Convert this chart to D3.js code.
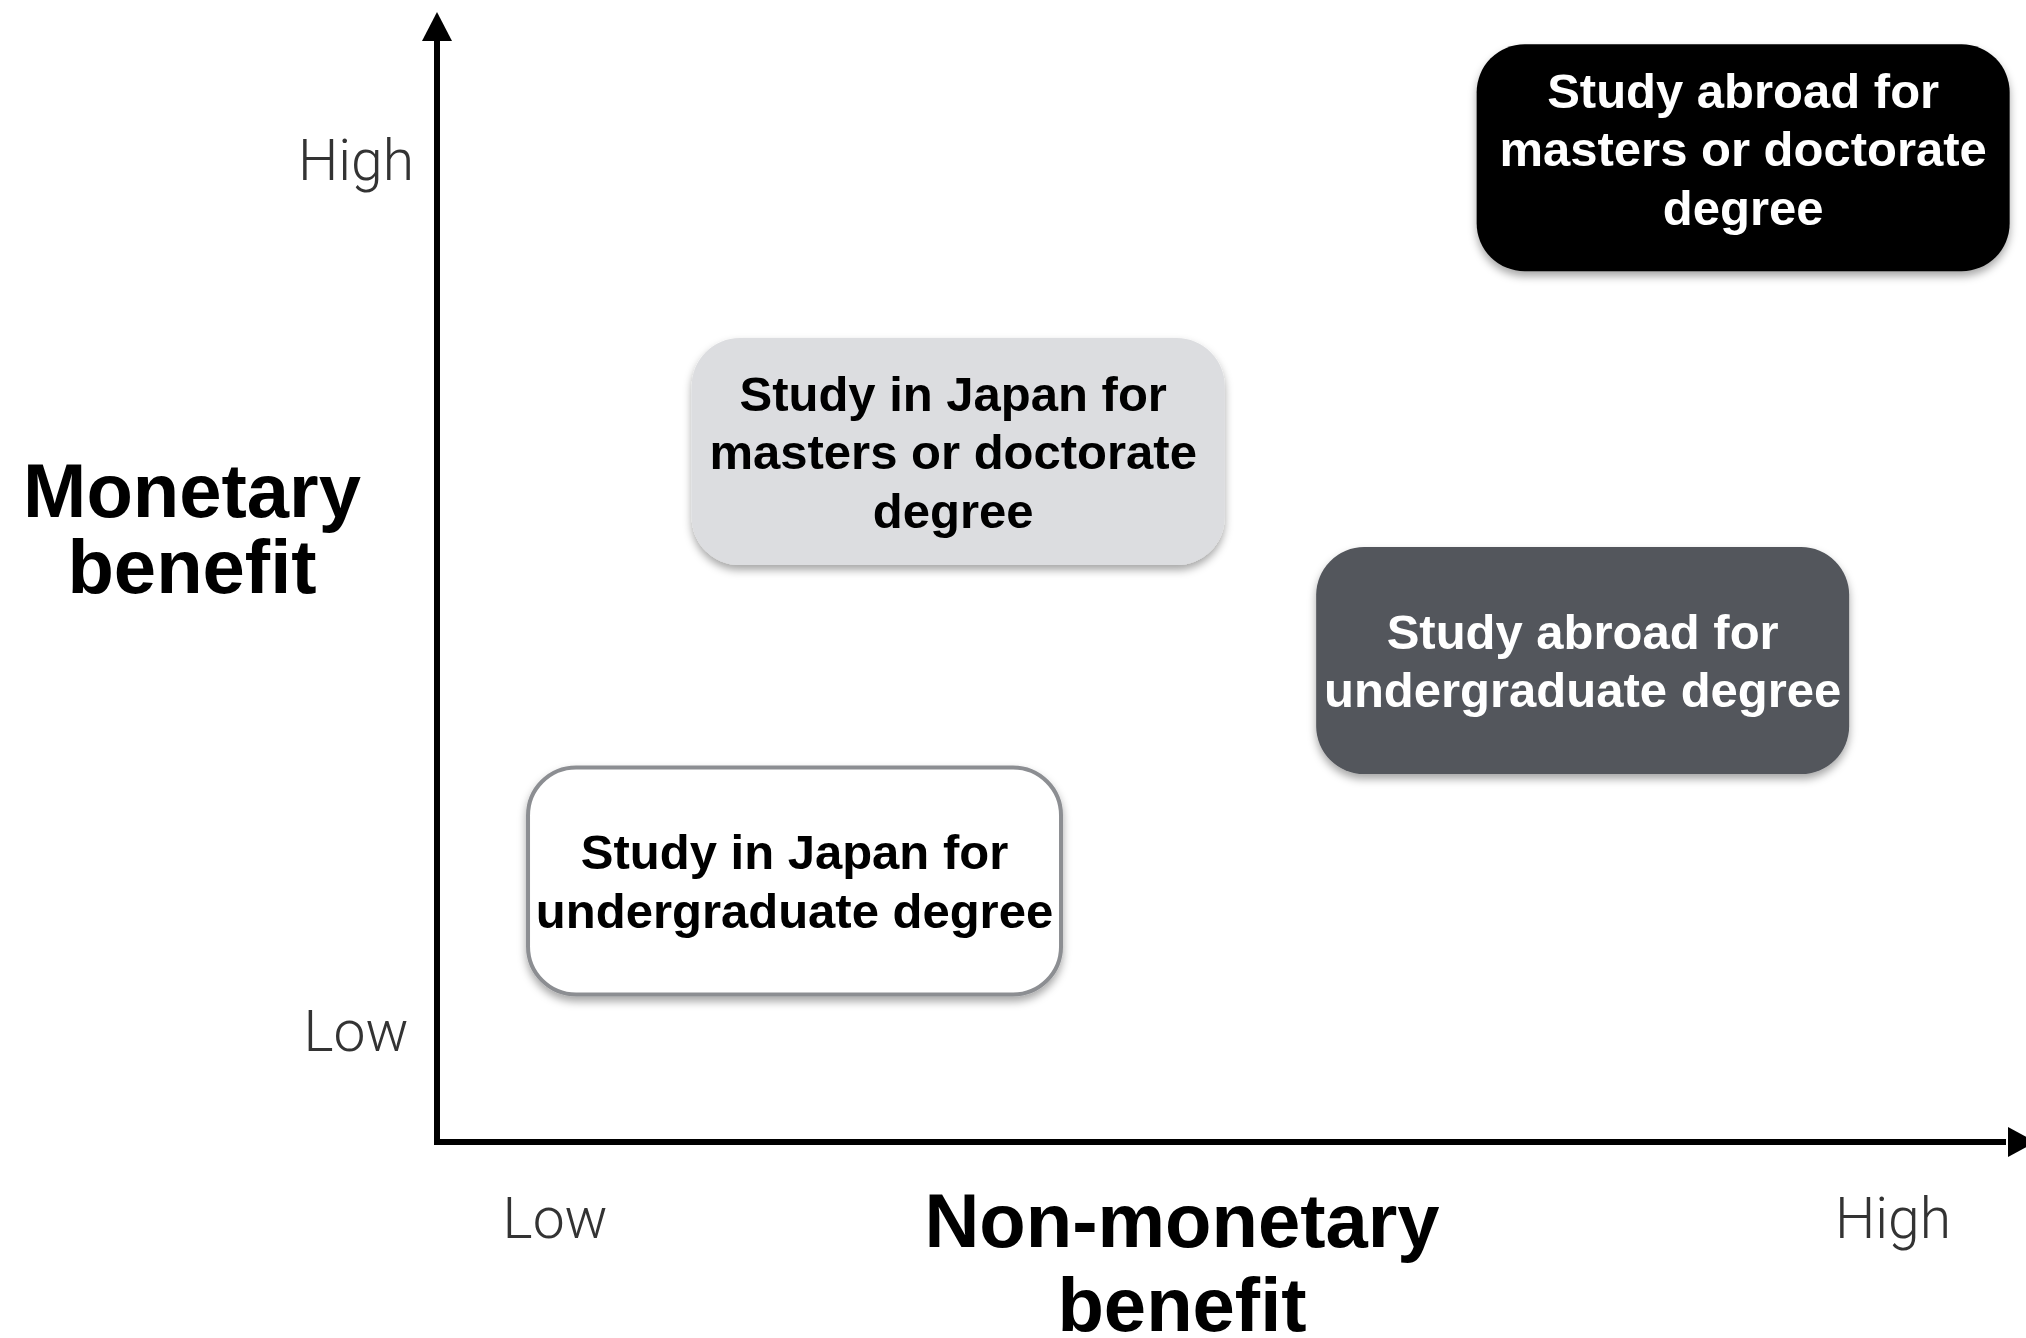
<!DOCTYPE html>
<html>
<head>
<meta charset="utf-8">
<script src="https://cdn.jsdelivr.net/npm/d3@7"></script>
<style>
  html, body { margin: 0; padding: 0; background: #ffffff; }
  svg { display: block; }
</style>
</head>
<body>
<svg id="chart" width="2026" height="1338"></svg>
<script>
// ---- data ----
const categories = [
  "Study abroad for\nmasters or doctorate\ndegree",
  "Study in Japan for\nmasters or doctorate\ndegree",
  "Study abroad for\nundergraduate degree",
  "Study in Japan for\nundergraduate degree"
];
const nonMonetary = [82.2, 32.8, 72.1, 22.5];   // x position (0-100)
const monetary    = [87.1, 61.1, 42.6, 23.1];   // y position (0-100)
const boxFills    = ["#000000", "#dcdde0", "#53565c", "#ffffff"];
const textFills   = ["#ffffff", "#000000", "#ffffff", "#000000"];
const xTickLabels = ["Low", "High"];
const xTickValues = [7.4, 91.6];
const yTickLabels = ["Low", "High"];
const yTickValues = [9.7, 86.8];
const xTitle = ["Non-monetary", "benefit"];
const yTitle = ["Monetary", "benefit"];

// ---- layout ----
const W = 2026, H = 1338;
const x0 = 437, yBase = 1142;
const x = d3.scaleLinear().domain([0, 100]).range([x0, 2026]);
const y = d3.scaleLinear().domain([0, 100]).range([yBase, 12]);
const textShift = [-9, 0, 0, 0];
const textShiftX = [0, -5, 0, 0];

const svg = d3.select("#chart");
svg.append("rect").attr("width", W).attr("height", H).attr("fill", "#fff");

const defs = svg.append("defs");
const f = defs.append("filter").attr("id", "shadow")
  .attr("x", "-10%").attr("y", "-10%").attr("width", "120%").attr("height", "130%");
f.append("feDropShadow").attr("dx", 0).attr("dy", 5).attr("stdDeviation", 4)
  .attr("flood-color", "#000").attr("flood-opacity", 0.35);

// axes lines with arrows
const axisG = svg.append("g");
axisG.append("line")
  .attr("x1", x(0)).attr("y1", y(0) + 3)
  .attr("x2", x(0)).attr("y2", y(100) + 26)
  .attr("stroke", "#000").attr("stroke-width", 6);
axisG.append("path")
  .attr("d", `M${x(0)},${y(100)} L${x(0) - 15},${y(100) + 29} L${x(0) + 15},${y(100) + 29} Z`)
  .attr("fill", "#000");
axisG.append("line")
  .attr("x1", x(0) - 3).attr("y1", y(0))
  .attr("x2", x(100) - 20).attr("y2", y(0))
  .attr("stroke", "#000").attr("stroke-width", 6);
axisG.append("path")
  .attr("d", `M${x(100) + 10},${y(0)} L${x(100) - 18},${y(0) - 15} L${x(100) - 18},${y(0) + 15} Z`)
  .attr("fill", "#000");

// tick labels via d3 axes
const tickFont = 57;
const xAxis = d3.axisBottom(x).tickValues(xTickValues)
  .tickFormat((d, i) => xTickLabels[i]).tickSize(0).tickPadding(56);
const gx = svg.append("g").attr("transform", `translate(0,${yBase})`).call(xAxis);
gx.select(".domain").remove();
gx.selectAll("text")
  .attr("font-family", "Roboto, 'Liberation Sans', sans-serif")
  .attr("font-weight", 300).attr("font-size", tickFont).attr("fill", "#333");

const yAxis = d3.axisLeft(y).tickValues(yTickValues)
  .tickFormat((d, i) => yTickLabels[i]).tickSize(0).tickPadding(81);
const gy = svg.append("g").attr("transform", `translate(${x0},0)`).call(yAxis);
gy.select(".domain").remove();
gy.selectAll("text")
  .attr("text-anchor", "middle")
  .attr("font-family", "Roboto, 'Liberation Sans', sans-serif")
  .attr("font-weight", 300).attr("font-size", tickFont).attr("fill", "#333");

// axis titles
const titleFont = 76;
yTitle.forEach((t, i) => {
  svg.append("text")
    .attr("font-family", "'Liberation Sans', Arial, sans-serif")
    .attr("font-weight", "bold").attr("font-size", titleFont)
    .attr("text-anchor", "middle").attr("fill", "#000")
    .attr("x", 192).attr("y", 517 + i * 76).text(t);
});
xTitle.forEach((t, i) => {
  svg.append("text")
    .attr("font-family", "'Liberation Sans', Arial, sans-serif")
    .attr("font-weight", "bold").attr("font-size", titleFont)
    .attr("text-anchor", "middle").attr("fill", "#000")
    .attr("x", 1182).attr("y", 1247 + i * 84).text(t);
});

// boxes
const boxW = 533, boxH = 227, boxR = 48;
const boxFont = 49, lineH = 58.5;
const data = categories.map((c, i) => ({
  label: c, xv: nonMonetary[i], yv: monetary[i], fill: boxFills[i], tfill: textFills[i],
  dy: textShift[i], dx: textShiftX[i]
}));

const g = svg.append("g").selectAll("g.box").data(data).join("g").attr("class", "box");
g.append("rect")
  .attr("x", d => x(d.xv) - boxW / 2)
  .attr("y", d => y(d.yv) - boxH / 2)
  .attr("width", boxW).attr("height", boxH)
  .attr("rx", boxR).attr("ry", boxR)
  .attr("fill", d => d.fill)
  .attr("stroke", d => d.fill === "#ffffff" ? "#8c8e92" : "none")
  .attr("stroke-width", 4)
  .attr("filter", "url(#shadow)");
g.append("text")
  .attr("font-family", "'Liberation Sans', Arial, sans-serif")
  .attr("font-weight", "bold").attr("font-size", boxFont)
  .attr("text-anchor", "middle")
  .attr("fill", d => d.tfill)
  .each(function (d) {
    const lines = d.label.split("\n");
    const n = lines.length;
    const sel = d3.select(this);
    lines.forEach((ln, i) => {
      sel.append("tspan")
        .attr("x", x(d.xv) + d.dx)
        .attr("y", y(d.yv) + d.dy + (i - (n - 1) / 2) * lineH + 0.358 * boxFont)
        .text(ln);
    });
  });
</script>
</body>
</html>
